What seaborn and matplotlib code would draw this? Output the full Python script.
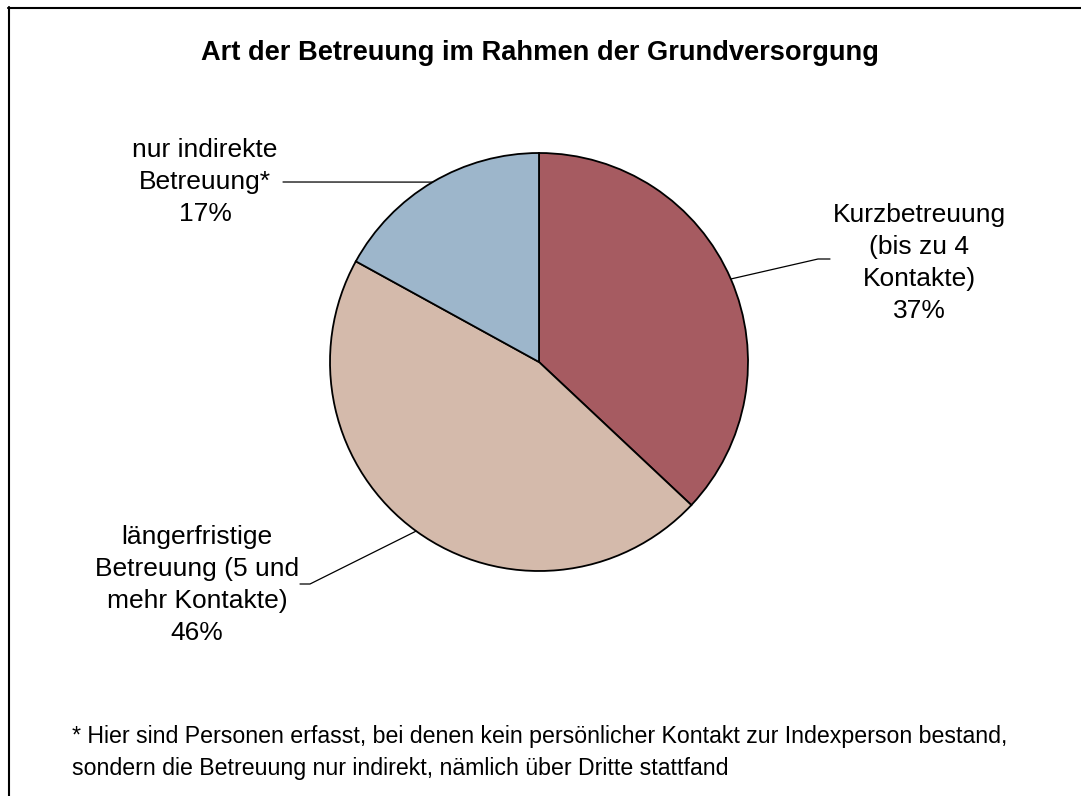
import numpy as np
import matplotlib
matplotlib.use("Agg")
import matplotlib.pyplot as plt
import seaborn as sns

# data
categories = ["Kurzbetreuung\n(bis zu 4\nKontakte)",
              "längerfristige\nBetreuung (5 und\nmehr Kontakte)",
              "nur indirekte\nBetreuung*"]
shares = [37, 46, 17]
colors = ["#A65B61", "#D4BAAB", "#9DB6CB"]

title = "Art der Betreuung im Rahmen der Grundversorgung"
footnote = ("* Hier sind Personen erfasst, bei denen kein persönlicher Kontakt zur Indexperson bestand,\n"
            "sondern die Betreuung nur indirekt, nämlich über Dritte stattfand")

sns.set_style("white")
plt.rcParams['font.family'] = ['Liberation Sans', 'DejaVu Sans']
plt.rcParams['text.color'] = 'black'

W, H = 1081, 796
fig = plt.figure(figsize=(W / 100, H / 100), dpi=100)

# pie axes: centre (539, 362), radius 209 px
cx, cy, r = 539, 362, 209
ax = fig.add_axes([(cx - r) / W, 1 - (cy + r) / H, 2 * r / W, 2 * r / H])
wedges, _ = ax.pie(shares, colors=colors, startangle=90, counterclock=False,
                   wedgeprops=dict(edgecolor="black", linewidth=1.3))
ax.set_xlim(-1, 1)
ax.set_ylim(-1, 1)
ax.set_aspect("equal")
ax.axis("off")


def px(x, y):
    # figure pixel -> pie data coords
    return (x - cx) / r, (cy - y) / r


# label positions (pixel centres of text block) and leader elbows
label_pos = [(919, 263), (197, 585), (205, 182)]
elbows = [[(818, 259), (830, 259)], [(310, 584), (300, 584)], [(283, 182)]]

for w, lab, share, (tx, ty), elb in zip(wedges, categories, shares, label_pos, elbows):
    mid = np.deg2rad((w.theta1 + w.theta2) / 2)
    pts = [(np.cos(mid), np.sin(mid))] + [px(*p) for p in elb]
    xs, ys = zip(*pts)
    ax.plot(xs, ys, color="black", lw=0.9, clip_on=False)
    fig.text(tx / W, 1 - ty / H, f"{lab}\n{share}%", ha="center", va="center",
             fontsize=19, linespacing=1.43, color="black")

fig.text(540 / W, 1 - 53 / H, title, ha="center", va="center",
         fontsize=19.6, fontweight="bold", color="black")
fig.text(72 / W, 1 - 753 / H, footnote, ha="left", va="center",
         fontsize=16.7, linespacing=1.5, color="black")

# chart frame (only top and left visible)
fig.add_artist(plt.Line2D([8 / W, 1.0], [1 - 7.5 / H, 1 - 7.5 / H], color="black", lw=1.5))
fig.add_artist(plt.Line2D([8.5 / W, 8.5 / W], [0.0, 1 - 7 / H], color="black", lw=1.5))

fig.savefig("out.png", dpi=100)
